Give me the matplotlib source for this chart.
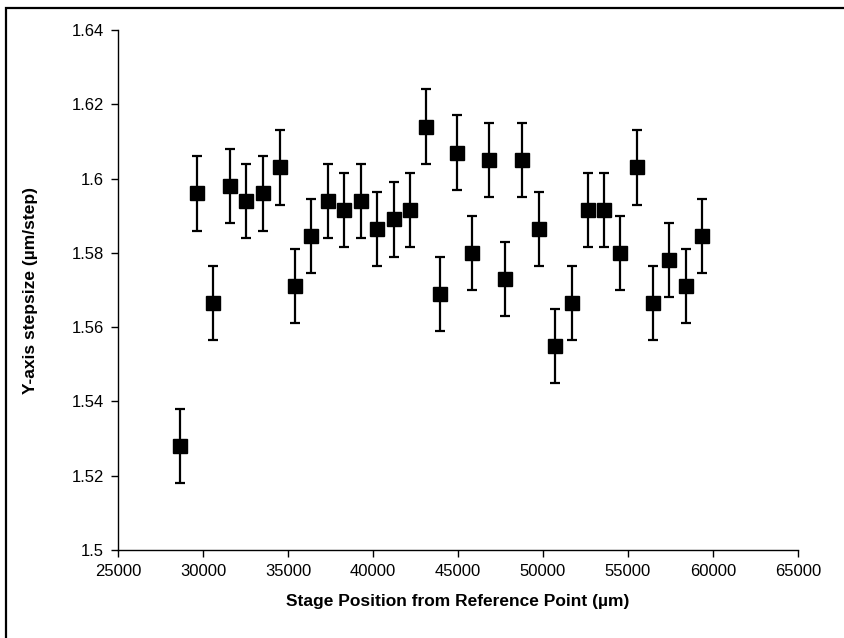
import matplotlib
matplotlib.use("Agg")
import matplotlib.pyplot as plt
from matplotlib.patches import Rectangle

# stage position (um) and measured y-axis stepsize (um/step)
position = [28650, 29650, 30590, 31590, 32530, 33530, 34530, 35410, 36350,
            37350, 38290, 39290, 40230, 41240, 42180, 43120, 43940, 44940,
            45820, 46820, 47760, 48760, 49760, 50700, 51700, 52650, 53590,
            54530, 55530, 56470, 57410, 58410, 59350]
stepsize = [1.528, 1.596, 1.5665, 1.598, 1.594, 1.596, 1.603, 1.571, 1.5845,
            1.594, 1.5915, 1.594, 1.5865, 1.589, 1.5915, 1.614, 1.569, 1.607,
            1.580, 1.605, 1.573, 1.605, 1.5865, 1.555, 1.5665, 1.5915, 1.5915,
            1.580, 1.603, 1.5665, 1.578, 1.571, 1.5845]
err = [0.01] * len(stepsize)

xticks = [25000, 30000, 35000, 40000, 45000, 50000, 55000, 60000, 65000]
yticks = [1.5, 1.52, 1.54, 1.56, 1.58, 1.6, 1.62, 1.64]
ytick_labels = ["1.5", "1.52", "1.54", "1.56", "1.58", "1.6", "1.62", "1.64"]

plt.rcParams['font.family'] = ['Liberation Sans', 'DejaVu Sans']

fig = plt.figure(figsize=(8.45, 6.38), dpi=100)
ax = fig.add_axes([0.1396, 0.1379, 0.8048, 0.8151])

ax.errorbar(position, stepsize, yerr=err, fmt='s', color='black',
            markersize=10, elinewidth=1.6, capsize=3.5, capthick=1.6)

ax.set_xlim(25000, 65000)
ax.set_ylim(1.5, 1.64)
ax.set_xticks(xticks)
ax.set_yticks(yticks)
ax.set_yticklabels(ytick_labels)
ax.tick_params(direction='out', length=5, width=1, labelsize=12, pad=5)

for side in ['top', 'right']:
    ax.spines[side].set_visible(False)
for side in ['left', 'bottom']:
    ax.spines[side].set_linewidth(1)

ax.set_xlabel("Stage Position from Reference Point (\u00b5m)", fontsize=12.5,
              fontweight='bold', labelpad=11)
ax.set_ylabel("Y-axis stepsize (\u00b5m/step)", fontsize=12.5,
              fontweight='bold', labelpad=24)

# frame around the whole chart
fig.patches.append(Rectangle((6 / 845, -0.02), 1.0, 1 - 8 / 638 + 0.02,
                             transform=fig.transFigure, fill=False,
                             edgecolor='black', linewidth=1.6))

fig.savefig("out.png", dpi=100)
